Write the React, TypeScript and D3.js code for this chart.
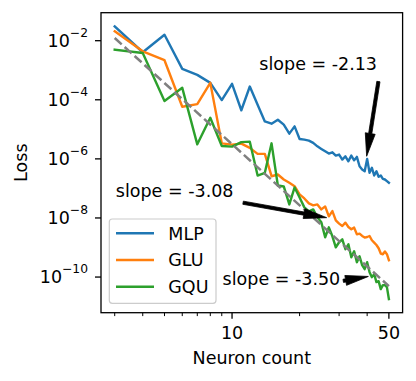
import React from "react";
import * as d3 from "d3";

// neuron counts on the x axis
const neurons = [
  3, 4, 5, 6, 7, 8, 9, 10, 11, 12, 13, 14, 15, 16, 17, 18, 19, 20, 21, 22, 23, 24, 25, 26,
  27, 28, 29, 30, 31, 32, 33, 34, 35, 36, 37, 38, 39, 40, 41, 42, 43, 44, 45, 46, 47, 48, 49, 50,
];

// log10(loss)
const mlpLog = [
  -1.514, -2.391, -1.798, -2.954, -3.157, -3.427, -4.01, -3.46, -4.354, -3.551, -4.169, -4.732,
  -4.809, -4.675, -4.843, -5.147, -4.9, -5.326, -5.349, -5.383, -5.46, -5.575, -5.663, -5.744,
  -5.821, -5.777, -5.889, -5.855, -6.024, -5.912, -6.081, -5.889, -6.047, -5.933, -6.25, -6.361,
  -6.418, -6.0, -6.472, -6.304, -6.563, -6.418, -6.607, -6.563, -6.675, -6.698, -6.755, -6.809,
];
const gluLog = [
  -1.683, -2.358, -2.661, -4.236, -4.145, -3.427, -5.474, -5.518, -5.484, -5.629, -5.831, -5.831,
  -6.587, -6.53, -6.698, -6.81, -6.924, -7.204, -7.339, -7.508, -7.575, -7.541, -7.71, -7.609,
  -7.946, -7.767, -8.081, -8.192, -8.273, -8.159, -8.307, -8.384, -8.327, -8.553, -8.53, -8.61,
  -8.664, -8.644, -8.61, -8.755, -8.833, -8.914, -9.025, -9.204, -9.228, -9.137, -9.228, -9.43,
];
const gquLog = [
  -2.304, -2.415, -4.044, -3.595, -5.508, -4.607, -5.562, -5.585, -5.433, -5.417, -6.563, -6.472,
  -5.474, -6.901, -6.934, -7.541, -6.968, -7.305, -7.642, -7.777, -7.71, -7.98, -8.149, -8.654,
  -8.317, -8.621, -8.992, -8.823, -8.722, -9.059, -8.89, -9.329, -9.126, -9.497, -9.295, -9.598,
  -9.733, -9.497, -9.834, -10.003, -9.902, -10.172, -10.138, -10.408, -10.273, -10.273, -10.341, -10.745,
];

// dashed fit line end points
const fitNeurons = [3, 50];
const fitLog = [-1.909, -10.307];

const seriesNames = ["MLP", "GLU", "GQU"];
const seriesColors = ["#1f77b4", "#ff7f0e", "#2ca02c"];

const yTickExps = [-2, -4, -6, -8, -10];
const xMajorTicks = [10, 50];
const xMinorTicks = [3, 4, 5, 6, 7, 8, 9, 20, 30, 40];

// annotations: [neurons, log10 loss]
const slopeTexts = ["slope = -2.13", "slope = -3.08", "slope = -3.50"];
const slopeTextAt = [[24.2, -2.988], [5.55, -7.282], [16.6, -10.263]];
const arrowFrom = [[44.9, -3.383], [11.2, -7.484], [31.3, -10.128]];
const arrowTo = [[39.8, -5.912], [26.4, -7.99], [40.5, -9.98]];

const W = 416;
const H = 381;
const left = 101;
const right = 402.6;
const top = 12.7;
const bottom = 312.7;
const font = "DejaVu Sans, sans-serif";
const fs = 17.5;

function arrowPoints(x1: number, y1: number, x2: number, y2: number) {
  const dx = x2 - x1;
  const dy = y2 - y1;
  const L = Math.hypot(dx, dy);
  const ux = dx / L;
  const uy = dy / L;
  const px = -uy;
  const py = ux;
  const headLen = Math.min(23, L);
  const headHalf = 5;
  const shaftHalf = 1.6;
  const bx = x2 - ux * headLen;
  const by = y2 - uy * headLen;
  const pts = [
    [x1 + px * shaftHalf, y1 + py * shaftHalf],
    [bx + px * shaftHalf, by + py * shaftHalf],
    [bx + px * headHalf, by + py * headHalf],
    [x2, y2],
    [bx - px * headHalf, by - py * headHalf],
    [bx - px * shaftHalf, by - py * shaftHalf],
    [x1 - px * shaftHalf, y1 - py * shaftHalf],
  ];
  return pts.map((p) => p.join(",")).join(" ");
}

export default function App() {
  const allSeries = [mlpLog, gluLog, gquLog];

  const lx0 = Math.log10(neurons[0]);
  const lx1 = Math.log10(neurons[neurons.length - 1]);
  const padX = (lx1 - lx0) * 0.05;
  const x = d3
    .scaleLog()
    .domain([10 ** (lx0 - padX), 10 ** (lx1 + padX)])
    .range([left, right]);

  const allLog = [...mlpLog, ...gluLog, ...gquLog, ...fitLog];
  const ly0 = d3.min(allLog) as number;
  const ly1 = d3.max(allLog) as number;
  const padY = (ly1 - ly0) * 0.05;
  const y = d3
    .scaleLog()
    .domain([10 ** (ly0 - padY), 10 ** (ly1 + padY)])
    .range([bottom, top]);

  const line = d3
    .line<[number, number]>()
    .x((d) => x(d[0]))
    .y((d) => y(10 ** d[1]));

  return (
    <svg
      width={W}
      height={H}
      style={{ position: "absolute", left: 0, top: 0 }}
      fontFamily={font}
    >
      <rect x={0} y={0} width={W} height={H} fill="white" />

      {allSeries.map((vals, i) => (
        <path
          key={seriesNames[i]}
          d={line(neurons.map((n, j) => [n, vals[j]] as [number, number])) || ""}
          fill="none"
          stroke={seriesColors[i]}
          strokeWidth={2.4}
          strokeLinejoin="round"
          strokeLinecap="square"
        />
      ))}

      <path
        d={line(fitNeurons.map((n, j) => [n, fitLog[j]] as [number, number])) || ""}
        fill="none"
        stroke="#808080"
        strokeWidth={2.5}
        strokeDasharray="9.4,4"
      />

      {arrowFrom.map((f, i) => (
        <polygon
          key={"arrow" + i}
          points={arrowPoints(x(f[0]), y(10 ** f[1]), x(arrowTo[i][0]), y(10 ** arrowTo[i][1]))}
          fill="black"
          stroke="black"
          strokeWidth={0.8}
        />
      ))}

      {slopeTexts.map((t, i) => (
        <text
          key={t}
          x={x(slopeTextAt[i][0])}
          y={y(10 ** slopeTextAt[i][1])}
          textAnchor="middle"
          fontSize={fs}
          fill="black"
        >
          {t}
        </text>
      ))}

      {/* axes frame */}
      <rect
        x={left}
        y={top}
        width={right - left}
        height={bottom - top}
        fill="none"
        stroke="black"
        strokeWidth={1.3}
      />

      {/* y ticks */}
      {yTickExps.map((e) => {
        const ty = y(10 ** e);
        return (
          <g key={"yt" + e}>
            <line x1={left - 6} x2={left} y1={ty} y2={ty} stroke="black" strokeWidth={1.3} />
            <text x={88} y={ty + 6} textAnchor="end" fontSize={fs} fill="black">
              10
              <tspan dy={-10} fontSize={12.3}>
                {"\u2212" + Math.abs(e)}
              </tspan>
            </text>
          </g>
        );
      })}

      {/* x ticks */}
      {xMinorTicks.map((v) => (
        <line
          key={"xm" + v}
          x1={x(v)}
          x2={x(v)}
          y1={bottom}
          y2={bottom + 3.4}
          stroke="black"
          strokeWidth={1}
        />
      ))}
      {xMajorTicks.map((v) => (
        <g key={"xt" + v}>
          <line x1={x(v)} x2={x(v)} y1={bottom} y2={bottom + 6} stroke="black" strokeWidth={1.3} />
          <text x={x(v)} y={338.5} textAnchor="middle" fontSize={fs} fill="black">
            {v}
          </text>
        </g>
      ))}

      <text x={(left + right) / 2} y={363.5} textAnchor="middle" fontSize={fs} fill="black">
        Neuron count
      </text>
      <text
        transform={`translate(26.5,${(top + bottom) / 2}) rotate(-90)`}
        textAnchor="middle"
        fontSize={fs}
        fill="black"
      >
        Loss
      </text>

      {/* legend */}
      <g>
        <rect
          x={109.3}
          y={219}
          width={106.7}
          height={84.3}
          rx={3}
          fill="white"
          fillOpacity={0.8}
          stroke="#cccccc"
          strokeWidth={1.2}
        />
        {seriesNames.map((name, i) => {
          const ly = 233.3 + i * 26.7;
          return (
            <g key={"lg" + name}>
              <line x1={116} x2={154} y1={ly} y2={ly} stroke={seriesColors[i]} strokeWidth={2.4} />
              <text x={168.3} y={ly + 6.3} fontSize={fs} fill="black">
                {name}
              </text>
            </g>
          );
        })}
      </g>
    </svg>
  );
}
